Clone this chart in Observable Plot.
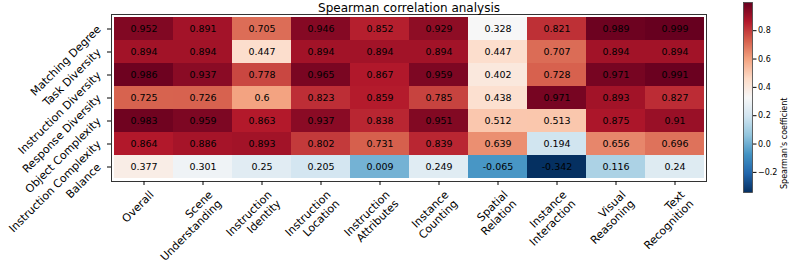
<!DOCTYPE html>
<html><head><meta charset="utf-8">
<script src="https://cdn.jsdelivr.net/npm/d3@7"></script>
<script src="https://cdn.jsdelivr.net/npm/@observablehq/plot@0.6"></script>
<style>
body{margin:0;background:#fff;}
#wrap{position:relative;width:789px;height:264px;font-family:"DejaVu Sans",sans-serif;}
#wrap svg{position:absolute;top:0;}
</style></head><body><div id="wrap"></div>
<script>
const title = "Spearman correlation analysis";
const colorbarLabel = "Spearman's coefficient";
const rows = ["Matching Degree", "Task Diversity", "Instruction Diversity", "Response Diversity", "Object Complexity", "Instruction Complexity", "Balance"];
const columns = ["Overall", "Scene Understanding", "Instruction Identity", "Instruction Location", "Instruction Attributes", "Instance Counting", "Spatial Relation", "Instance Interaction", "Visual Reasoning", "Text Recognition"];
const matchingDegree        = [0.952, 0.891, 0.705, 0.946, 0.852, 0.929, 0.328, 0.821, 0.989, 0.999];
const taskDiversity         = [0.894, 0.894, 0.447, 0.894, 0.894, 0.894, 0.447, 0.707, 0.894, 0.894];
const instructionDiversity  = [0.986, 0.937, 0.778, 0.965, 0.867, 0.959, 0.402, 0.728, 0.971, 0.991];
const responseDiversity     = [0.725, 0.726, 0.6, 0.823, 0.859, 0.785, 0.438, 0.971, 0.893, 0.827];
const objectComplexity      = [0.983, 0.959, 0.863, 0.937, 0.838, 0.951, 0.512, 0.513, 0.875, 0.91];
const instructionComplexity = [0.864, 0.886, 0.893, 0.802, 0.731, 0.839, 0.639, 0.194, 0.656, 0.696];
const balance               = [0.377, 0.301, 0.25, 0.205, 0.009, 0.249, -0.065, -0.342, 0.116, 0.24];
const values = [matchingDegree, taskDiversity, instructionDiversity, responseDiversity, objectComplexity, instructionComplexity, balance];
const colorbarTicks = [-0.2, 0.0, 0.2, 0.4, 0.6, 0.8];
const rdbuR = ["#053061", "#2166ac", "#4393c3", "#92c5de", "#d1e5f0", "#f7f7f7", "#fddbc7", "#f4a582", "#d6604d", "#b2182b", "#67001f"];

const data = rows.flatMap((r, i) => columns.map((c, j) => ({row: r, col: c, value: values[i][j]})));
const vmin = d3.min(data, d => d.value), vmax = d3.max(data, d => d.value);
const color = {type: "linear", domain: rdbuR.map((_, i) => vmin + i * (vmax - vmin) / (rdbuR.length - 1)), range: rdbuR, interpolate: "rgb"};
const font = "DejaVu Sans";

const main = Plot.plot({
  width: 789, height: 264, marginLeft: 111, marginRight: 83, marginTop: 14, marginBottom: 83,
  style: {fontFamily: font, background: "white", overflow: "visible"},
  x: {domain: columns, padding: 0},
  y: {domain: rows, padding: 0},
  color,
  marks: [
    Plot.cell(data, {x: "col", y: "row", fill: "value", shapeRendering: "crispEdges"}),
    Plot.text(data, {x: "col", y: "row", text: d => String(d.value), fill: "black", fontSize: 9.5}),
    Plot.frame({stroke: "#333", strokeWidth: 1}),
    Plot.axisX({tickSize: 4, tickFormat: () => "", label: null}),
    Plot.axisY({tickSize: 4, tickFormat: () => "", label: null}),
    Plot.text(columns, {x: d => d, frameAnchor: "bottom", text: d => d.replace(" ", "\n"), rotate: -45, textAnchor: "end", lineAnchor: "top", dx: 4, dy: 7.5, fontSize: 11, lineHeight: 1.15, fill: "black"}),
    Plot.text(rows, {y: d => d, frameAnchor: "left", text: d => d, rotate: -45, textAnchor: "end", lineAnchor: "middle", dx: -12.5, dy: -1.5, fontSize: 11, fill: "black"}),
    Plot.text([title], {frameAnchor: "top", dy: -3, lineAnchor: "bottom", fontSize: 12, fill: "black"})
  ]
});
main.style.left = "0px";

const bar = Plot.plot({
  width: 46, height: 264, marginLeft: 0, marginRight: 37, marginTop: 2, marginBottom: 72,
  style: {fontFamily: font, background: "transparent", overflow: "visible"},
  x: {domain: [0, 1], axis: null},
  y: {domain: [vmin, vmax], axis: null},
  color,
  marks: [
    Plot.raster({x1: 0, x2: 1, y1: vmin, y2: vmax, fill: (x, y) => y}),
    Plot.frame({stroke: "#444", strokeWidth: 0.8}),
    Plot.axisY(colorbarTicks, {anchor: "right", tickSize: 3.5, tickPadding: 2, fontSize: 8, tickFormat: d3.format(".1f"), label: null, fill: "black"}),
    Plot.text([colorbarLabel], {frameAnchor: "right", rotate: -90, dx: 32, fontSize: 8, fill: "black"})
  ]
});
bar.style.left = "743px";

const wrap = document.getElementById("wrap");
wrap.appendChild(main);
wrap.appendChild(bar);
</script></body></html>
